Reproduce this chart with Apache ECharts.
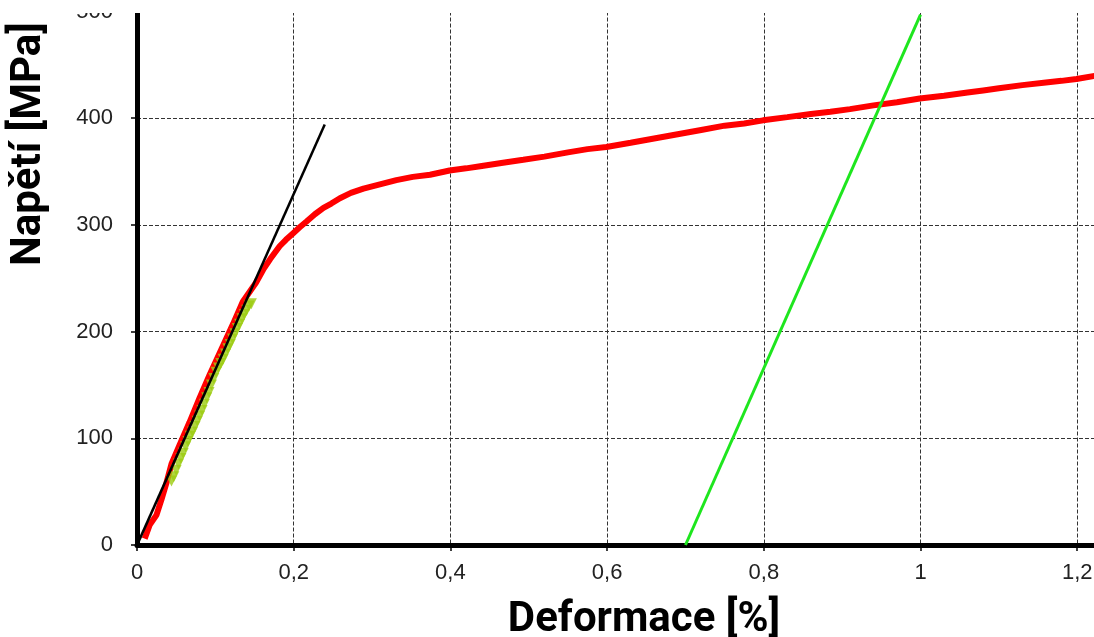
<!DOCTYPE html>
<html>
<head>
<meta charset="utf-8">
<script src="https://cdn.jsdelivr.net/npm/echarts@6/dist/echarts.min.js"></script>
<style>
  html, body { margin: 0; padding: 0; background: #fff; }
  #chart { width: 1094px; height: 637px; }
</style>
</head>
<body>
<div id="chart"></div>
<script>
// measured stress-strain curve [strain %, stress MPa]
const tahovaKrivka = [
  [0.0098, 6], [0.0163, 19], [0.0248, 28], [0.031, 42], [0.0375, 58],
  [0.044, 76], [0.0545, 94], [0.067, 115], [0.080, 138], [0.093, 160],
  [0.1055, 180], [0.1225, 207], [0.135, 228], [0.152, 246], [0.161, 258],
  [0.170, 268], [0.182, 280], [0.190, 286], [0.199, 292], [0.208, 298],
  [0.216, 303], [0.227, 310], [0.238, 316], [0.248, 320], [0.259, 325],
  [0.273, 330], [0.289, 334], [0.310, 338], [0.331, 342], [0.352, 345],
  [0.374, 347], [0.399, 351], [0.420, 353], [0.438, 355], [0.465, 358],
  [0.493, 361], [0.520, 364], [0.550, 368], [0.575, 371], [0.599, 373],
  [0.630, 377], [0.660, 381], [0.690, 385], [0.720, 389], [0.750, 393],
  [0.775, 395], [0.799, 398], [0.830, 401], [0.860, 404], [0.885, 406],
  [0.910, 408.5], [0.940, 412], [0.970, 415], [0.999, 418.5], [1.030, 421],
  [1.060, 424], [1.080, 426], [1.100, 428], [1.130, 431], [1.160, 433.5],
  [1.180, 435], [1.199, 436.7], [1.225, 440]
];

// points used for the modulus fit
const bodyRegrese = [
  [0.044, 60], [0.047, 64], [0.050, 70], [0.053, 76], [0.056, 81],
  [0.059, 86], [0.062, 92], [0.065, 97], [0.068, 102], [0.071, 106],
  [0.074, 111], [0.077, 116], [0.080, 121], [0.083, 126], [0.086, 132],
  [0.089, 138], [0.092, 143], [0.095, 150], [0.098, 156], [0.101, 162],
  [0.104, 166], [0.107, 170], [0.110, 174], [0.113, 179], [0.116, 184],
  [0.119, 188], [0.122, 193], [0.125, 198], [0.128, 203], [0.131, 207],
  [0.134, 212], [0.137, 216], [0.140, 220], [0.143, 224], [0.146, 226]
];

// elastic line and offset line
const primkaModulu = [[0.0013, 2], [0.2396, 394]];
const primkaPosunuta = [[0.70, 0], [1.00, 497]];

const yTicks = [0, 100, 200, 300, 400, 500];

const chart = echarts.init(document.getElementById('chart'));

const option = {
  animation: false,
  backgroundColor: '#fff',
  grid: {
    left: 137,
    right: 0,
    top: 11.5,
    bottom: 92,
    outerBoundsMode: 'none'
  },
  xAxis: {
    type: 'value',
    min: 0,
    max: 1.2214,
    interval: 0.2,
    name: 'Deformace [%]',
    nameLocation: 'middle',
    nameGap: 54,
    nameTextStyle: {
      fontFamily: 'Roboto',
      fontWeight: 'bold',
      fontSize: 42,
      color: '#000',
      padding: [0, 0, 0, 57]
    },
    axisLine: { lineStyle: { color: '#000', width: 5 } },
    axisTick: { length: 6, lineStyle: { color: '#000', width: 1.5 } },
    axisLabel: {
      margin: 17,
      showMaxLabel: false,
      fontFamily: 'Liberation Sans, Arial',
      fontSize: 22,
      color: '#222',
      formatter: v => String(+v.toFixed(1)).replace('.', ',')
    },
    splitLine: {
      show: true,
      lineStyle: { color: '#333', width: 1, type: [4, 2] }
    }
  },
  yAxis: {
    type: 'value',
    min: yTicks[0],
    max: yTicks[yTicks.length - 1],
    interval: 100,
    axisLine: { show: true, lineStyle: { color: '#000', width: 5 } },
    axisTick: { show: true, length: 6, lineStyle: { color: '#000', width: 1.5 } },
    axisLabel: {
      margin: 24,
      fontFamily: 'Liberation Sans, Arial',
      fontSize: 22,
      color: '#222'
    },
    splitLine: {
      show: true,
      lineStyle: { color: '#333', width: 1, type: [4, 2] }
    }
  },
  graphic: [
    {
      type: 'text',
      x: 29,
      y: 144,
      rotation: Math.PI / 2,
      z: 50,
      style: {
        text: 'Napětí [MPa]',
        font: 'bold 42px Roboto',
        fill: '#000',
        textAlign: 'center',
        textVerticalAlign: 'middle'
      }
    },
    {
      type: 'rect',
      z: 100,
      shape: { x: 0, y: 0, width: 1094, height: 13 },
      style: { fill: '#fff' }
    }
  ],
  series: [
    {
      name: 'Napětí',
      type: 'line',
      data: tahovaKrivka,
      showSymbol: false,
      lineStyle: { color: '#ff0000', width: 6 },
      z: 2
    },
    {
      name: 'Body regrese',
      type: 'scatter',
      data: bodyRegrese,
      symbol: 'triangle',
      symbolSize: 11,
      symbolRotate: 180,
      itemStyle: { color: '#9ccc10' },
      z: 3
    },
    {
      name: 'Modul',
      type: 'line',
      data: primkaModulu,
      showSymbol: false,
      lineStyle: { color: '#000', width: 2.5 },
      z: 4
    },
    {
      name: 'Posunutá přímka',
      type: 'line',
      data: primkaPosunuta,
      showSymbol: false,
      lineStyle: { color: '#1ee61e', width: 3 },
      z: 5
    }
  ]
};

chart.setOption(option);
</script>
</body>
</html>
